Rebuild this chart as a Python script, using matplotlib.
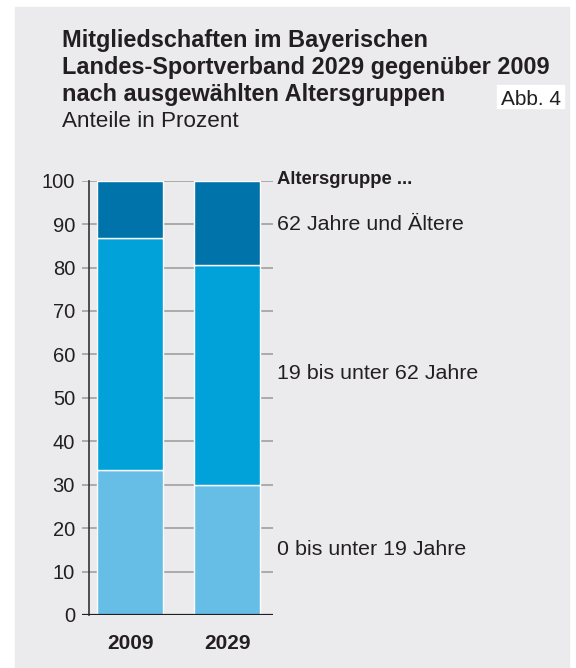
import numpy as np
import matplotlib.pyplot as plt

plt.rcParams['font.family'] = ['Liberation Sans', 'DejaVu Sans']

years = ['2009', '2029']
groups = ['0 bis unter 19 Jahre', '19 bis unter 62 Jahre', '62 Jahre und Ältere']
shares = [
    [33.3, 30.0],   # 0 bis unter 19
    [53.6, 50.7],   # 19 bis unter 62
    [13.1, 19.3],   # 62 und aelter
]
colors = ['#66bee7', '#00a2d9', '#0073aa']
label_y = [15.0, 55.7, 89.8]
yticks = np.arange(0, 101, 10)

txt = '#231f20'
bg = '#ebebed'

fig = plt.figure(figsize=(5.76, 6.68), dpi=100)
fig.patch.set_facecolor('white')
fig.patches.append(plt.Rectangle((15 / 576, 0), 554 / 576, 661 / 668,
                                 transform=fig.transFigure, color=bg, zorder=-10))

title = ['Mitgliedschaften im Bayerischen',
         'Landes-Sportverband 2029 gegenüber 2009',
         'nach ausgewählten Altersgruppen']
for line, yb in zip(title, [47, 74, 101]):
    fig.text(62 / 576, 1 - yb / 668, line, fontsize=16.9, fontweight='bold',
             color=txt, va='baseline')
fig.text(62 / 576, 1 - 127 / 668, 'Anteile in Prozent', fontsize=16.2, color=txt, va='baseline')
fig.patches.append(plt.Rectangle((497 / 576, 1 - 108 / 668), 67 / 576, 23 / 668,
                                 transform=fig.transFigure, color='white', zorder=-5))
fig.text(561 / 576, 1 - 105 / 668, 'Abb. 4', fontsize=15, color=txt, va='baseline', ha='right')

ax = fig.add_axes([82 / 576, 1 - 615 / 668, 191 / 576, 434.3 / 668])
ax.set_facecolor('none')
x = np.arange(len(years))
for v in yticks[1:]:
    ax.axhline(v, color='#9a9a9a', lw=1.1, zorder=0)
bottom = np.zeros(len(years))
for vals, c in zip(shares, colors):
    ax.bar(x, vals, bottom=bottom, width=0.686, color=c, edgecolor='white', lw=1, zorder=2)
    bottom += np.array(vals)
ax.plot([-0.423, -0.423], [0, 100], color='#333333', lw=1.2, zorder=3, clip_on=False)
ax.axhline(0, color='#231f20', lw=1.6, zorder=4)

ax.set_xlim(-0.495, 1.474)
ax.set_ylim(0, 100)
ax.set_yticks(yticks)
ax.set_yticklabels([str(v) for v in yticks], fontsize=14.5, color=txt)
ax.set_xticks(x)
ax.set_xticklabels(years, fontsize=15, fontweight='bold', color=txt)
ax.tick_params(axis='y', length=0, pad=5)
ax.tick_params(axis='x', length=0, pad=14)
for s in ax.spines.values():
    s.set_visible(False)

ax.text(1.515, 100.2, 'Altersgruppe ...', fontsize=13.3, fontweight='bold', color=txt,
        va='center', clip_on=False)
for g, ly in zip(groups, label_y):
    ax.text(1.515, ly, g, fontsize=15.4, color=txt, va='center', clip_on=False)

fig.savefig('out.png', dpi=100, facecolor=fig.get_facecolor())
